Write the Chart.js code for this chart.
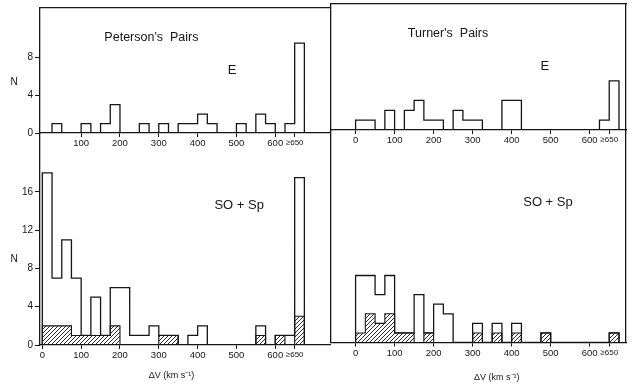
<!DOCTYPE html>
<html>
<head>
<meta charset="utf-8">
<script src="https://cdn.jsdelivr.net/npm/chart.js@4.4.1/dist/chart.umd.min.js"></script>
<style>
  body { margin: 0; background: #fff; }
  #wrap { position: relative; width: 634px; height: 388px; }
  #wrap canvas { position: absolute; left: 0; top: 0; }
</style>
</head>
<body>
<div id="wrap">
  <canvas id="tl" width="634" height="388"></canvas>
  <canvas id="tr" width="634" height="388"></canvas>
  <canvas id="bl" width="634" height="388"></canvas>
  <canvas id="br" width="634" height="388"></canvas>
</div>
<script>
// bins are 25 km/s wide, the last one is the ">=650" bin
const BIN = 25;
const binStarts = [0, 25, 50, 75, 100, 125, 150, 175, 200, 225, 250, 275, 300, 325,
                   350, 375, 400, 425, 450, 475, 500, 525, 550, 575, 600, 625, 650];

// counts, one per bin
const petersonE   = [0, 1, 0, 0, 1, 0, 1, 3, 0, 0, 1, 0, 1, 0, 1, 1, 2, 1, 0, 0, 1, 0, 2, 1, 0, 1, 9.5];
const turnerE     = [1, 1, 0, 2, 0, 2, 3, 1, 1, 0, 2, 1, 1, 0, 0, 3, 3, 0, 0, 0, 0, 0, 0, 0, 0, 1, 5];
const petersonSp  = [18, 7, 11, 7, 1, 5, 1, 6, 6, 1, 1, 2, 1, 1, 0, 1, 2, 0, 0, 0, 0, 0, 2, 0, 1, 1, 17.5];
const petersonSpH = [2, 2, 2, 1, 1, 1, 1, 2, 0, 0, 0, 0, 1, 1, 0, 0, 0, 0, 0, 0, 0, 0, 1, 0, 1, 0, 3];
const turnerSp    = [7, 7, 5, 7, 1, 1, 5, 1, 4, 3, 0, 0, 2, 0, 2, 0, 2, 0, 0, 1, 0, 0, 0, 0, 0, 0, 1];
const turnerSpH   = [1, 3, 2, 3, 1, 1, 0, 1, 0, 0, 0, 0, 1, 0, 1, 0, 1, 0, 0, 1, 0, 0, 0, 0, 0, 0, 1];

const xTicks = [0, 100, 200, 300, 400, 500, 600, 650];
const xTicksTopLeft = [100, 200, 300, 400, 500, 600, 650];
const yTicksTop = [0, 4, 8];
const yTicksBottom = [0, 4, 8, 12, 16];

const INK = '#161616';
const FONT = '"Liberation Sans", Arial, sans-serif';
const AX = 30;

function steps(vals) {
  const pts = [{ x: binStarts[0], y: 0 }];
  vals.forEach((v, i) => pts.push({ x: binStarts[i], y: v }));
  pts.push({ x: binStarts[vals.length - 1] + BIN, y: 0 });
  return pts;
}

function hatch() {
  const c = document.createElement('canvas');
  c.width = c.height = 4;
  const g = c.getContext('2d');
  g.strokeStyle = INK;
  g.lineWidth = 0.9;
  g.beginPath();
  g.moveTo(0, 4); g.lineTo(4, 0);
  g.moveTo(-1, 1); g.lineTo(1, -1);
  g.moveTo(3, 5); g.lineTo(5, 3);
  g.stroke();
  return g.createPattern(c, 'repeat');
}

const panelText = {
  id: 'panelText',
  afterDraw(chart, args, opts) {
    const ctx = chart.ctx, a = chart.chartArea;
    ctx.save();
    ctx.fillStyle = INK;
    ctx.textAlign = 'center';
    ctx.textBaseline = 'middle';
    (opts.items || []).forEach(t => {
      const px = t.left !== undefined ? t.left : chart.scales.x.getPixelForValue(t.x);
      const py = t.below !== undefined ? a.bottom + t.below : chart.scales.y.getPixelForValue(t.y);
      ctx.font = (t.size || 12) + 'px ' + FONT;
      ctx.fillText(t.text, px, py);
    });
    ctx.restore();
  }
};

function panel(id, p) {
  const datasets = [{
    data: steps(p.open), stepped: 'before', borderColor: INK, borderWidth: 1.3,
    pointRadius: 0, fill: false
  }];
  if (p.hatched) {
    datasets.push({
      data: steps(p.hatched), stepped: 'before', borderColor: INK, borderWidth: 1.1,
      pointRadius: 0, fill: 'origin', backgroundColor: hatch()
    });
  }
  const edge = { display: false, drawOnChartArea: false, drawTicks: false };
  new Chart(document.getElementById(id), {
    type: 'line',
    data: { datasets },
    plugins: [panelText],
    options: {
      responsive: false, animation: false,
      layout: { padding: {
        left: p.left - (p.yLabels ? AX : (p.leftEdge ? AX : 0)),
        right: 634 - p.right - (p.rightEdge ? 1 : 0),
        top: p.top - (p.topEdge ? 1 : 0),
        bottom: 388 - p.bottom - AX
      } },
      plugins: { legend: { display: false }, tooltip: { enabled: false },
                 panelText: { items: p.text } },
      scales: {
        x: {
          type: 'linear', min: p.xMin, max: p.xMax,
          afterBuildTicks: s => { s.ticks = p.xTicks.map(v => ({ value: v })); },
          afterFit: s => { s.height = AX; },
          grid: { drawOnChartArea: false, tickLength: 4, color: INK },
          border: { display: true, color: INK, width: 1.3 },
          ticks: { color: INK, padding: 1, maxRotation: 0, autoSkip: false,
                   font: c => ({ family: FONT, size: c.tick && c.tick.value === 650 ? 8 : 9.5 }),
                   callback: v => v === 650 ? '≥650' : String(v) }
        },
        y: {
          display: p.yLabels || p.leftEdge ? true : false,
          min: 0, max: p.yMax,
          afterBuildTicks: s => { s.ticks = (p.yLabels || []).map(v => ({ value: v })); },
          afterFit: s => { s.width = AX; },
          grid: { drawOnChartArea: false, drawTicks: !!p.yLabels, tickLength: 5, color: INK },
          border: { display: true, color: INK, width: 1.3 },
          ticks: { display: !!p.yLabels, color: INK, padding: 2,
                   font: { family: FONT, size: 10 } }
        },
        xTop: {
          type: 'linear', position: 'top', display: !!p.topEdge,
          afterBuildTicks: s => { s.ticks = []; },
          afterFit: s => { s.height = 1; },
          grid: edge, ticks: { display: false },
          border: { display: true, color: INK, width: 1.3 }
        },
        yRight: {
          type: 'linear', position: 'right', display: !!p.rightEdge,
          afterBuildTicks: s => { s.ticks = []; },
          afterFit: s => { s.width = 1; },
          grid: edge, ticks: { display: false },
          border: { display: true, color: INK, width: 1.3 }
        }
      }
    }
  });
}

const dvLabel = 'ΔV (km s⁻¹)';

panel('tl', {
  open: petersonE, left: 40, right: 331, top: 7, bottom: 133,
  xMin: -6, xMax: 741, yMax: 13.2, xTicks: xTicksTopLeft, yLabels: yTicksTop, topEdge: true,
  text: [
    { text: "Peterson's  Pairs", x: 281, y: 10.1, size: 12.5 },
    { text: 'E', x: 489, y: 6.6, size: 13 },
    { text: 'N', left: 14, y: 5.4, size: 10 }
  ]
});

panel('tr', {
  open: turnerE, left: 331, right: 626, top: 4, bottom: 130,
  xMin: -63, xMax: 693, yMax: 12.8, xTicks: xTicks, leftEdge: true, topEdge: true, rightEdge: true,
  text: [
    { text: "Turner's  Pairs", x: 237, y: 9.8, size: 12.5 },
    { text: 'E', x: 485, y: 6.5, size: 13 }
  ]
});

panel('bl', {
  open: petersonSp, hatched: petersonSpH, left: 40, right: 331, top: 133, bottom: 345,
  xMin: -6, xMax: 741, yMax: 22.06, xTicks: xTicks, yLabels: yTicksBottom,
  text: [
    { text: 'SO + Sp', x: 507, y: 14.6, size: 13 },
    { text: 'N', left: 14, y: 9, size: 10 },
    { text: dvLabel, x: 333, below: 31, size: 9 }
  ]
});

panel('br', {
  open: turnerSp, hatched: turnerSpH, left: 331, right: 626, top: 130, bottom: 342.5,
  xMin: -63, xMax: 693, yMax: 22.1, xTicks: xTicks, leftEdge: true, rightEdge: true,
  text: [
    { text: 'SO + Sp', x: 493, y: 14.6, size: 13 },
    { text: dvLabel, x: 362, below: 35, size: 9 }
  ]
});
</script>
</body>
</html>
